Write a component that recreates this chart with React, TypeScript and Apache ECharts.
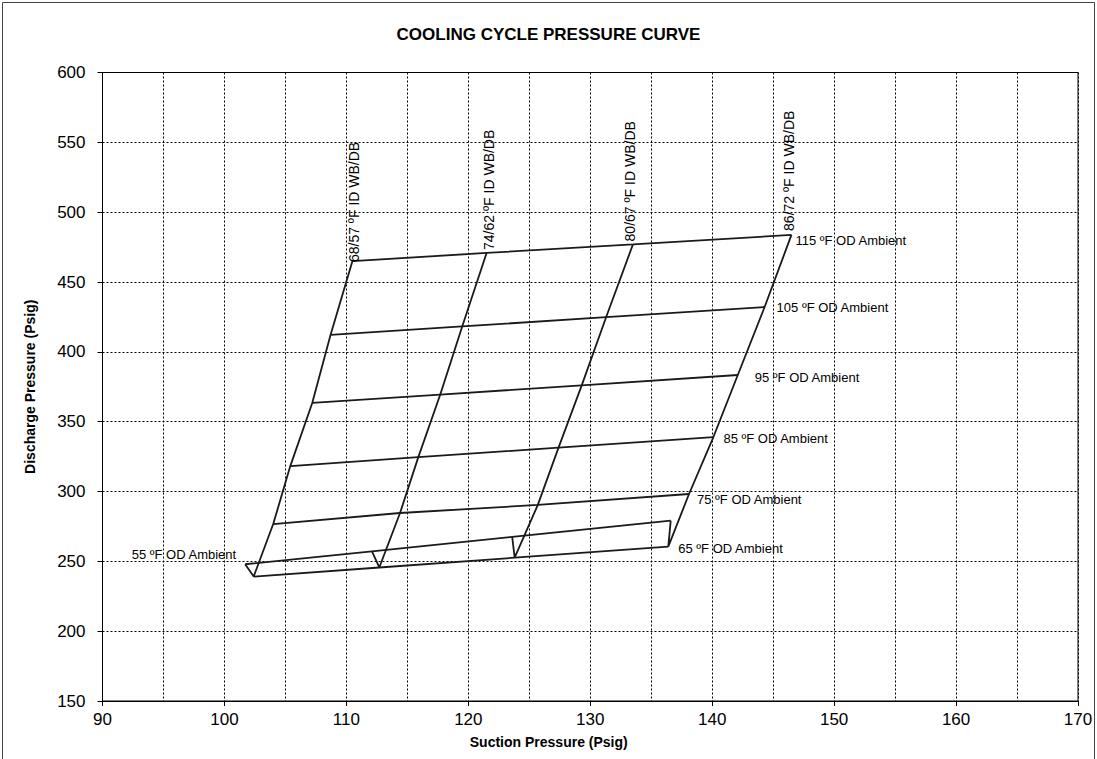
import React, { useEffect, useRef } from "react";
import * as echarts from "echarts";

// ---- data ----
const titleText = "COOLING CYCLE PRESSURE CURVE";
const xAxisTitle = "Suction Pressure (Psig)";
const yAxisTitle = "Discharge Pressure (Psig)";

const ambientTemps = [55, 65, 75, 85, 95, 105, 115];
const ambientLabels = ambientTemps.map((t) => `${t} ºF OD Ambient`);
const idConditions = ["68/57", "74/62", "80/67", "86/72"];
const idLabels = idConditions.map((c) => `${c} ºF ID WB/DB`);

// suction / discharge pressure at each OD ambient (55..115 ºF), per ID condition
const suction6857 = [101.7, 102.4, 104.0, 105.4, 107.2, 108.7, 110.5];
const discharge6857 = [247.9, 239.1, 276.7, 318.2, 363.4, 412.1, 465.0];
const suction7462 = [112.1, 112.7, 114.4, 115.9, 117.7, 119.5, 121.5];
const discharge7462 = [257.2, 245.6, 284.6, 324.6, 369.4, 418.2, 470.8];
const suction8067 = [123.6, 123.8, 125.7, 127.4, 129.3, 131.3, 133.5];
const discharge8067 = [267.5, 252.6, 290.4, 331.4, 376.0, 424.8, 476.9];
const suction8672 = [136.6, 136.4, 138.1, 140.1, 142.1, 144.3, 146.5];
const discharge8672 = [279.1, 260.5, 298.2, 339.0, 383.4, 432.1, 483.7];

const suctionById = [suction6857, suction7462, suction8067, suction8672];
const dischargeById = [discharge6857, discharge7462, discharge8067, discharge8672];

const xMin = 90;
const xMax = 170;
const xStep = 10;
const yMin = 150;
const yMax = 600;
const yStep = 50;

// ---- styling (label placement offsets in px, relative to the line end points) ----
const ambientLabelOffsets: [number, number][] = [
  [-9, -10],
  [10, 2],
  [8, 5],
  [10, 1],
  [17, 2],
  [12, 0],
  [4, 6],
];
const idLabelOffsets: [number, number][] = [
  [2, 1],
  [2, -3],
  [-3, -3],
  [-2, -4],
];

const FONT = "'Liberation Sans', Arial, sans-serif";
const LINE_COLOR = "#1a1a1a";
const GRID_DASH = [2, 2];

export default function App() {
  const ref = useRef<HTMLDivElement>(null);

  useEffect(() => {
    document.body.style.margin = "0";
    const chart = echarts.init(ref.current!, null, { renderer: "svg" });

    const idSeries = idLabels.map((name, k) => ({
      name,
      type: "line",
      data: suctionById[k].map((x, i) => [x, dischargeById[k][i]]),
      showSymbol: false,
      symbol: "none",
      lineStyle: { color: LINE_COLOR, width: 1.8 },
      silent: true,
      z: 3,
    }));
    const ambientSeries = ambientLabels.map((name, i) => ({
      name,
      type: "line",
      data: suctionById.map((s, k) => [s[i], dischargeById[k][i]]),
      showSymbol: false,
      symbol: "none",
      lineStyle: { color: LINE_COLOR, width: 1.8 },
      silent: true,
      z: 3,
    }));

    chart.setOption({
      animation: false,
      backgroundColor: "#ffffff",
      textStyle: { fontFamily: FONT },
      title: {
        text: titleText,
        left: "center",
        top: 21,
        textStyle: { fontFamily: FONT, fontSize: 17, fontWeight: "bold", color: "#000" },
      },
      grid: {
        left: 102.5,
        top: 72.5,
        width: 975.5,
        height: 628.5,
        show: true,
        borderColor: "#000",
        borderWidth: 1,
        containLabel: false,
      },
      xAxis: {
        type: "value",
        min: xMin,
        max: xMax,
        interval: xStep,
        name: xAxisTitle,
        nameLocation: "middle",
        nameGap: 34,
        nameTextStyle: {
          fontFamily: FONT,
          fontSize: 14,
          fontWeight: "bold",
          color: "#000",
          padding: [0, 83, 0, 0],
        },
        axisLine: { show: true, lineStyle: { color: "#000", width: 1 } },
        axisTick: { show: true, length: 5, lineStyle: { color: "#000" } },
        axisLabel: { fontFamily: FONT, fontSize: 17, color: "#000", margin: 10 },
        splitLine: { show: true, lineStyle: { color: "#000", width: 1, type: GRID_DASH } },
        minorTick: { show: false, splitNumber: 2 },
        minorSplitLine: { show: true, lineStyle: { color: "#000", width: 1, type: GRID_DASH } },
      },
      yAxis: {
        type: "value",
        min: yMin,
        max: yMax,
        interval: yStep,
        name: yAxisTitle,
        nameLocation: "middle",
        nameGap: 66,
        nameTextStyle: { fontFamily: FONT, fontSize: 14, fontWeight: "bold", color: "#000" },
        axisLine: { show: true, lineStyle: { color: "#000", width: 1 } },
        axisTick: { show: true, length: 5, lineStyle: { color: "#000" } },
        axisLabel: { fontFamily: FONT, fontSize: 17, color: "#000", margin: 17 },
        splitLine: { show: true, lineStyle: { color: "#000", width: 1, type: GRID_DASH } },
      },
      series: [...idSeries, ...ambientSeries],
    });

    const graphics: any[] = [
      {
        type: "rect",
        shape: { x: 2.5, y: 2.5, width: 1092, height: 800 },
        style: { fill: "none", stroke: "#444", lineWidth: 1 },
        silent: true,
        z: 0,
      },
    ];

    // ambient labels at the end of each ambient line
    ambientLabels.forEach((label, i) => {
      const isLeft = i === 0;
      const k = isLeft ? 0 : suctionById.length - 1;
      const p = chart.convertToPixel({ gridIndex: 0 }, [suctionById[k][i], dischargeById[k][i]]) as number[];
      const [dx, dy] = ambientLabelOffsets[i];
      graphics.push({
        type: "text",
        x: p[0] + dx,
        y: p[1] + dy,
        silent: true,
        z: 10,
        style: {
          text: label,
          fontFamily: FONT,
          fontSize: 13,
          fill: "#000",
          align: isLeft ? "right" : "left",
          verticalAlign: "middle",
        },
      });
    });

    // ID labels, vertical, at the top of each ID line
    idLabels.forEach((label, k) => {
      const last = suctionById[k].length - 1;
      const p = chart.convertToPixel({ gridIndex: 0 }, [suctionById[k][last], dischargeById[k][last]]) as number[];
      const [dx, dy] = idLabelOffsets[k];
      graphics.push({
        type: "text",
        x: p[0] + dx,
        y: p[1] + dy,
        rotation: Math.PI / 2,
        silent: true,
        z: 10,
        style: {
          text: label,
          fontFamily: FONT,
          fontSize: 14,
          fill: "#000",
          align: "left",
          verticalAlign: "middle",
        },
      });
    });

    chart.setOption({ graphic: graphics });

    return () => chart.dispose();
  }, []);

  return <div ref={ref} style={{ width: 1097, height: 759 }} />;
}
